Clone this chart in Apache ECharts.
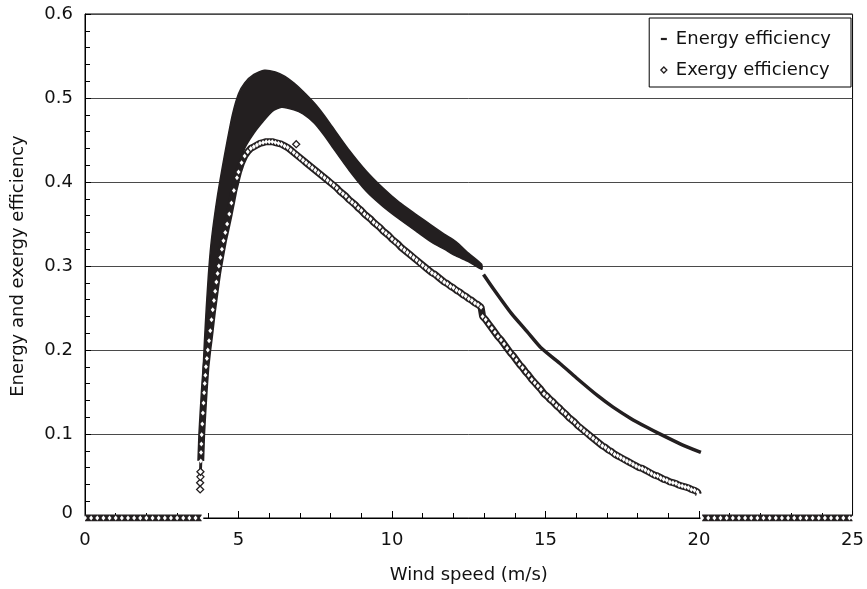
<!DOCTYPE html>
<html lang="en">
<head>
    <meta charset="UTF-8">
    <title>Energy and exergy efficiency</title>
    <script src="https://cdn.jsdelivr.net/npm/echarts@6/dist/echarts.min.js"></script>
    <style>
        html, body { margin: 0; padding: 0; background: #fff; }
        #container { width: 867px; height: 589px; }
    </style>
</head>
<body>
<div id="container"></div>
<script>
    // energy efficiency: scattered band, read as outer (upper) and inner (lower) edges
    var energyUpper = [
        [3.74,0.055],[3.77,0.09],[3.80,0.13],[3.84,0.17],[3.89,0.21],[3.95,0.25],[4.02,0.29],
        [4.1,0.325],[4.2,0.355],[4.32,0.385],[4.46,0.415],[4.62,0.447],[4.8,0.48],[5.0,0.505],
        [5.2,0.518],[5.5,0.528],[5.84,0.533],[6.2,0.531],[6.5,0.526],[6.8,0.518],[7.1,0.508],
        [7.47,0.494],[7.8,0.479],[8.05,0.466],[8.6,0.438],[9.16,0.413],[9.7,0.393],[10.23,0.376],
        [10.8,0.361],[11.3,0.348],[11.7,0.338],[12.08,0.329],[12.5,0.315],[12.92,0.302]
    ];
    var energyLower = [
        [3.76,0.04],[3.80,0.07],[3.86,0.12],[3.93,0.16],[4.0,0.20],[4.1,0.24],[4.25,0.28],
        [4.45,0.31],[4.7,0.36],[4.95,0.41],[5.2,0.44],[5.5,0.458],[5.8,0.472],[6.1,0.484],
        [6.4,0.489],[6.8,0.486],[7.1,0.481],[7.47,0.47],[7.8,0.455],[8.05,0.442],[8.6,0.414],
        [9.16,0.389],[9.7,0.371],[10.23,0.356],[10.8,0.341],[11.3,0.328],[11.7,0.32],
        [12.08,0.312],[12.5,0.305],[12.92,0.296]
    ];
    var energyTail = [
        [12.98,0.29],[13.3,0.273],[13.9,0.243],[14.4,0.222],[14.87,0.202],[15.5,0.183],[16.0,0.167],
        [16.72,0.145],[17.2,0.132],[17.8,0.118],[18.3,0.108],[18.67,0.101],[19.4,0.088],[20.06,0.078]
    ];

    // exergy efficiency (diamonds)
    var exergyMain = [
        [3.77,0.068],[3.78,0.078],[3.79,0.088],[3.80,0.099],[3.82,0.112],[3.84,0.125],[3.86,0.137],
        [3.88,0.149],[3.90,0.16],[3.92,0.17],[3.94,0.18],[3.97,0.19],[4.00,0.20],[4.04,0.211],
        [4.08,0.223],[4.12,0.236],[4.16,0.248],[4.20,0.259],[4.24,0.27],[4.28,0.281],[4.32,0.291],
        [4.36,0.30],[4.41,0.31],[4.46,0.32],[4.51,0.33],[4.57,0.34],[4.63,0.35],[4.70,0.362],
        [4.77,0.375],[4.85,0.39],[4.95,0.405],[5.0,0.412],[5.1,0.423],[5.2,0.431],[5.3,0.436],
        [5.4,0.440],[5.5,0.442],[5.6,0.444],[5.7,0.446],[5.8,0.447],[5.9,0.448],[6.0,0.448],
        [6.1,0.448],[6.2,0.447],[6.3,0.446],[6.4,0.445],[6.5,0.443],[6.6,0.441],[6.7,0.438],
        [6.8,0.435],[6.9,0.432],[7.0,0.429],[7.1,0.426],[7.2,0.423],[7.3,0.420],[7.4,0.417],
        [7.5,0.414],[7.6,0.411],[7.7,0.408],[7.8,0.405],[7.9,0.402],[8.0,0.399],[8.1,0.396],
        [8.2,0.393],[8.3,0.389],[8.4,0.386],[8.5,0.383],[8.6,0.379],[8.7,0.376],[8.8,0.373],
        [8.9,0.369],[9.0,0.366],[9.1,0.362],[9.2,0.359],[9.3,0.356],[9.4,0.352],[9.5,0.349],
        [9.6,0.346],[9.7,0.342],[9.8,0.339],[9.9,0.336],[10.0,0.332],[10.1,0.329],[10.2,0.326],
        [10.3,0.322],[10.4,0.319],[10.5,0.316],[10.6,0.313],[10.7,0.310],[10.8,0.307],[10.9,0.304],
        [11.0,0.301],[11.1,0.298],[11.2,0.295],[11.3,0.292],[11.4,0.290],[11.5,0.287],[11.6,0.284],
        [11.7,0.281],[11.8,0.279],[11.9,0.276],[12.0,0.274],[12.1,0.271],[12.2,0.269],[12.3,0.266],
        [12.4,0.264],[12.5,0.261],[12.6,0.259],[12.7,0.256],[12.8,0.254],[12.9,0.251],[12.95,0.240],
        [13.05,0.236],[13.15,0.231],[13.25,0.226],[13.35,0.221],[13.45,0.216],[13.55,0.212],
        [13.65,0.207],[13.75,0.202],[13.85,0.197],[13.95,0.193],[14.05,0.188],[14.15,0.183],
        [14.25,0.179],[14.35,0.174],[14.45,0.170],[14.55,0.165],[14.65,0.161],[14.75,0.157],
        [14.85,0.153],[14.95,0.148],[15.05,0.145],[15.15,0.141],[15.25,0.138],[15.35,0.134],
        [15.45,0.131],[15.55,0.127],[15.65,0.124],[15.75,0.120],[15.85,0.117],[15.95,0.114],
        [16.05,0.110],[16.15,0.107],[16.25,0.104],[16.35,0.101],[16.45,0.098],[16.55,0.095],
        [16.65,0.092],[16.75,0.089],[16.85,0.086],[16.95,0.084],[17.05,0.081],[17.15,0.079],
        [17.25,0.076],[17.35,0.074],[17.45,0.072],[17.55,0.070],[17.65,0.068],[17.75,0.066],
        [17.85,0.064],[17.95,0.062],[18.05,0.060],[18.15,0.059],[18.25,0.057],[18.35,0.055],
        [18.45,0.053],[18.55,0.051],[18.65,0.050],[18.75,0.048],[18.85,0.046],[18.95,0.045],
        [19.05,0.043],[19.15,0.042],[19.25,0.041],[19.35,0.039],[19.45,0.038],[19.55,0.037],
        [19.65,0.036],[19.75,0.034],[19.85,0.033],[19.95,0.031],[19.98,0.028]
    ];
    var exergyZeroLow = [
        [0,0],[0.2,0],[0.4,0],[0.6,0],[0.8,0],[1.0,0],[1.2,0],[1.4,0],[1.6,0],[1.8,0],[2.0,0],
        [2.2,0],[2.4,0],[2.6,0],[2.8,0],[3.0,0],[3.2,0],[3.4,0],[3.6,0],[3.8,0]
    ];
    var exergyZeroHigh = [
        [20.1,0],[20.3,0],[20.5,0],[20.7,0],[20.9,0],[21.1,0],[21.3,0],[21.5,0],[21.7,0],[21.9,0],
        [22.1,0],[22.3,0],[22.5,0],[22.7,0],[22.9,0],[23.1,0],[23.3,0],[23.5,0],[23.7,0],[23.9,0],
        [24.1,0],[24.3,0],[24.5,0],[24.7,0],[24.9,0],[25.0,0]
    ];
    var exergyLoose = [[3.75,0.034],[3.75,0.042],[3.76,0.049],[3.76,0.055],[6.88,0.445]];

    var xTicks = [0, 5, 10, 15, 20, 25];
    var yTicks = [0, 0.1, 0.2, 0.3, 0.4, 0.5, 0.6];

    var FONT = 'DejaVu Sans';
    var INK = '#231f20';

    var dom = document.getElementById('container');
    var myChart = echarts.init(dom, null, {renderer: 'canvas'});

    function chainSeries(data) {
        return {
            name: 'Exergy efficiency',
            type: 'line',
            data: data,
            z: 5,
            symbol: 'diamond',
            symbolSize: [4, 5],
            showAllSymbol: true,
            itemStyle: {color: '#fff', borderWidth: 0},
            lineStyle: {color: INK, width: 7},
            emphasis: {disabled: true}
        };
    }

    var option = {
        animation: false,
        backgroundColor: '#fff',
        grid: {
            left: 85, right: 12, top: 14, bottom: 69,
            show: true, borderColor: '#000', borderWidth: 1
        },
        legend: {
            orient: 'vertical',
            right: 16,
            top: 18,
            padding: [10, 20, 6, 11],
            itemGap: 9,
            itemWidth: 6,
            itemHeight: 6,
            borderColor: '#000',
            borderWidth: 1,
            backgroundColor: '#fff',
            selectedMode: false,
            textStyle: {fontFamily: FONT, fontSize: 18, color: '#111', lineHeight: 22, padding: [0, 0, 0, 4]},
            data: [
                {name: 'Energy efficiency', icon: 'path://M0,0H6V2.2H0Z', itemStyle: {color: INK}},
                {name: 'Exergy efficiency', icon: 'diamond', itemStyle: {color: '#fff', borderColor: INK, borderWidth: 1.3}}
            ]
        },
        xAxis: {
            type: 'value',
            min: xTicks[0],
            max: xTicks[xTicks.length - 1],
            interval: 5,
            name: 'Wind speed (m/s)',
            nameLocation: 'middle',
            nameGap: 48,
            nameTextStyle: {fontFamily: FONT, fontSize: 18, color: '#111'},
            axisLine: {lineStyle: {color: '#000', width: 1}},
            axisTick: {inside: true, length: 7, lineStyle: {color: '#000'}},
            minorTick: {show: true, splitNumber: 5, length: 5, lineStyle: {color: '#000'}},
            axisLabel: {fontFamily: FONT, fontSize: 18, color: '#111', margin: 13},
            splitLine: {show: false}
        },
        yAxis: {
            type: 'value',
            min: yTicks[0],
            max: yTicks[yTicks.length - 1],
            interval: 0.1,
            name: 'Energy and exergy efficiency',
            nameLocation: 'middle',
            nameGap: 58,
            nameTextStyle: {fontFamily: FONT, fontSize: 18, color: '#111'},
            axisLine: {show: true, lineStyle: {color: '#000', width: 1}},
            axisTick: {show: true, inside: true, length: 6, lineStyle: {color: '#000'}},
            minorTick: {show: true, splitNumber: 5, length: 5, lineStyle: {color: '#000'}},
            axisLabel: {
                fontFamily: FONT, fontSize: 18, color: '#111', margin: 12,
                formatter: function (v) { return v === 0 ? '{z|0}' : String(Math.round(v * 10) / 10); },
                rich: {z: {fontFamily: FONT, fontSize: 18, color: '#111', padding: [0, 0, 10, 0]}}
            },
            splitLine: {show: true, lineStyle: {color: '#4a4a4a', width: 1}}
        },
        series: [
            {
                name: 'Energy efficiency',
                type: 'custom',
                z: 3,
                data: [energyUpper[0]],
                renderItem: function (params, api) {
                    var pts = [];
                    for (var i = 0; i < energyUpper.length; i++) {
                        pts.push(api.coord(energyUpper[i]));
                    }
                    for (var j = energyLower.length - 1; j >= 0; j--) {
                        pts.push(api.coord(energyLower[j]));
                    }
                    return {
                        type: 'polygon',
                        shape: {points: pts, smooth: 0.2},
                        style: {fill: INK, stroke: INK, lineWidth: 1.5}
                    };
                }
            },
            {
                name: 'Energy efficiency',
                type: 'line',
                z: 3,
                data: energyTail,
                showSymbol: false,
                smooth: 0.2,
                lineStyle: {color: INK, width: 3.5},
                emphasis: {disabled: true}
            },
            chainSeries(exergyZeroLow),
            chainSeries(exergyMain),
            chainSeries(exergyZeroHigh),
            {
                name: 'Exergy efficiency',
                type: 'scatter',
                z: 6,
                data: exergyLoose,
                symbol: 'diamond',
                symbolSize: 7,
                itemStyle: {color: '#fff', borderColor: INK, borderWidth: 1.3, opacity: 1}
            }
        ]
    };

    myChart.setOption(option);
</script>
</body>
</html>
